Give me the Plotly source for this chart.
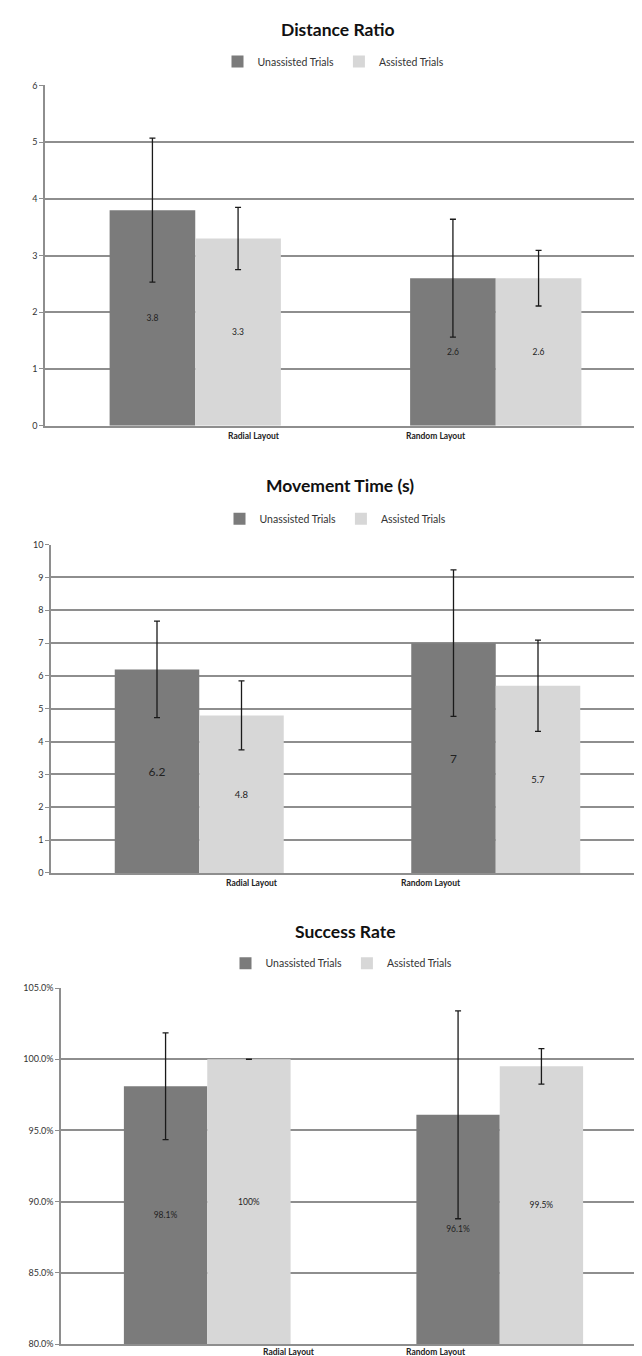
import plotly.graph_objects as go

W, H = 642, 1356

categories = ["Radial Layout", "Random Layout"]
series_names = ["Unassisted Trials", "Assisted Trials"]

# Chart 1: Distance Ratio
dist_unassisted = [3.8, 2.6]
dist_assisted = [3.3, 2.6]
dist_unassisted_err = [1.27, 1.04]
dist_assisted_err = [0.55, 0.49]
dist_unassisted_lbl = ["3.8", "2.6"]
dist_assisted_lbl = ["3.3", "2.6"]

# Chart 2: Movement Time (s)
mt_unassisted = [6.2, 7.0]
mt_assisted = [4.8, 5.7]
mt_unassisted_err = [1.47, 2.23]
mt_assisted_err = [1.05, 1.39]
mt_unassisted_lbl = ["6.2", "7"]
mt_assisted_lbl = ["4.8", "5.7"]

# Chart 3: Success Rate
sr_unassisted = [0.981, 0.961]
sr_assisted = [1.000, 0.995]
sr_unassisted_err = [0.0375, 0.073]
sr_assisted_err = [0.0, 0.0124]
sr_unassisted_lbl = ["98.1%", "96.1%"]
sr_assisted_lbl = ["100%", "99.5%"]

DARK = "#7b7b7b"
LIGHT = "#d7d7d7"
GRID = "#8e8e8e"
FONT = "Lato"

charts = [
    dict(title="Distance Ratio", u=dist_unassisted, a=dist_assisted, ue=dist_unassisted_err,
         ae=dist_assisted_err, ul=dist_unassisted_lbl, al=dist_assisted_lbl,
         usize=8.5, asize=8.5, x=(37, 638), y=(72, 415), rng=[0, 6], dtick=1, fmt="",
         tpos=[0.196, 0.8], lab_y=425, title_y=16, leg_y=48),
    dict(title="Movement Time (s)", u=mt_unassisted, a=mt_assisted, ue=mt_unassisted_err,
         ae=mt_assisted_err, ul=mt_unassisted_lbl, al=mt_assisted_lbl,
         usize=12, asize=9.5, x=(43, 636), y=(535, 866), rng=[0, 10], dtick=1, fmt="",
         tpos=[0.177, 0.78], lab_y=876, title_y=475, leg_y=509),
    dict(title="Success Rate", u=sr_unassisted, a=sr_assisted, ue=sr_unassisted_err,
         ae=sr_assisted_err, ul=sr_unassisted_lbl, al=sr_assisted_lbl,
         usize=8.5, asize=8.5, x=(53, 638), y=(982, 1341), rng=[0.80, 1.05], dtick=0.05, fmt=".1%",
         tpos=[0.28, 0.782], lab_y=1349, title_y=925, leg_y=957),
]

fig = go.Figure()
xpos = [0, 1]

for i, c in enumerate(charts):
    n = "" if i == 0 else str(i + 1)
    xa, ya = "x" + n, "y" + n
    leg = "legend" + n
    base = c["rng"][0]
    for name, vals, errs, lbls, col, fs in [
        (series_names[0], c["u"], c["ue"], c["ul"], DARK, c["usize"]),
        (series_names[1], c["a"], c["ae"], c["al"], LIGHT, c["asize"]),
    ]:
        fig.add_trace(go.Bar(
            x=xpos, y=[v - base for v in vals], base=base, name=name,
            marker=dict(color=col, line=dict(width=0)),
            error_y=dict(type="data", array=errs, visible=True, color="#1a1a1a",
                         thickness=1.3, width=3),
            text=lbls, textposition="inside", insidetextanchor="middle",
            textfont=dict(family=FONT, size=fs, color="#222222"),
            xaxis=xa, yaxis=ya, legend=leg, showlegend=True, hoverinfo="skip",
        ))
    x0, x1 = c["x"]
    y0, y1 = c["y"]
    fig.update_layout(**{
        "xaxis" + n: dict(
            domain=[x0 / W, x1 / W], range=[-0.5, 1.5], anchor=ya,
            showticklabels=False, showgrid=False, zeroline=False,
            showline=True, linecolor=GRID, linewidth=1.5, ticks="",
            fixedrange=True,
        ),
        "yaxis" + n: dict(
            domain=[1 - y1 / H, 1 - y0 / H], range=c["rng"], dtick=c["dtick"],
            tickformat=c["fmt"], anchor=xa, showgrid=True, gridcolor=GRID, gridwidth=1.5,
            zeroline=False, showline=True, linecolor=GRID, linewidth=1.5,
            ticks="outside", ticklen=4, tickcolor=GRID,
            tickfont=dict(family=FONT, size=9, color="#333333"),
        ),
        leg: dict(
            orientation="h", x=(x0 + x1) / 2 / W - 12 / W, xanchor="center",
            y=1 - c["leg_y"] / H, yanchor="middle", bgcolor="rgba(0,0,0,0)",
            font=dict(family=FONT, size=10.5, color="#333333"),
            itemwidth=30, tracegroupgap=0, traceorder="normal",
        ),
    })
    for cat, tp in zip(categories, c["tpos"]):
        fig.add_annotation(
            text="<b>" + cat + "</b>", xref=xa, yref="paper", x=tp,
            y=1 - c["lab_y"] / H, xanchor="center", yanchor="middle", showarrow=False,
            borderpad=0, font=dict(family=FONT, size=8.5, color="#222222"),
        )
    fig.add_annotation(
        text="<b>" + c["title"] + "</b>", xref="paper", yref="paper",
        x=(x0 + x1) / 2 / W - 8 / W, y=1 - c["title_y"] / H, xanchor="center", yanchor="middle",
        showarrow=False, font=dict(family=FONT, size=17.5, color="#111111"),
    )

fig.update_layout(
    width=W, height=H, margin=dict(l=0, r=0, t=0, b=0),
    paper_bgcolor="white", plot_bgcolor="white",
    barmode="group", bargap=0.43, bargroupgap=0,
    font=dict(family=FONT),
)

fig.write_html("out.html")
